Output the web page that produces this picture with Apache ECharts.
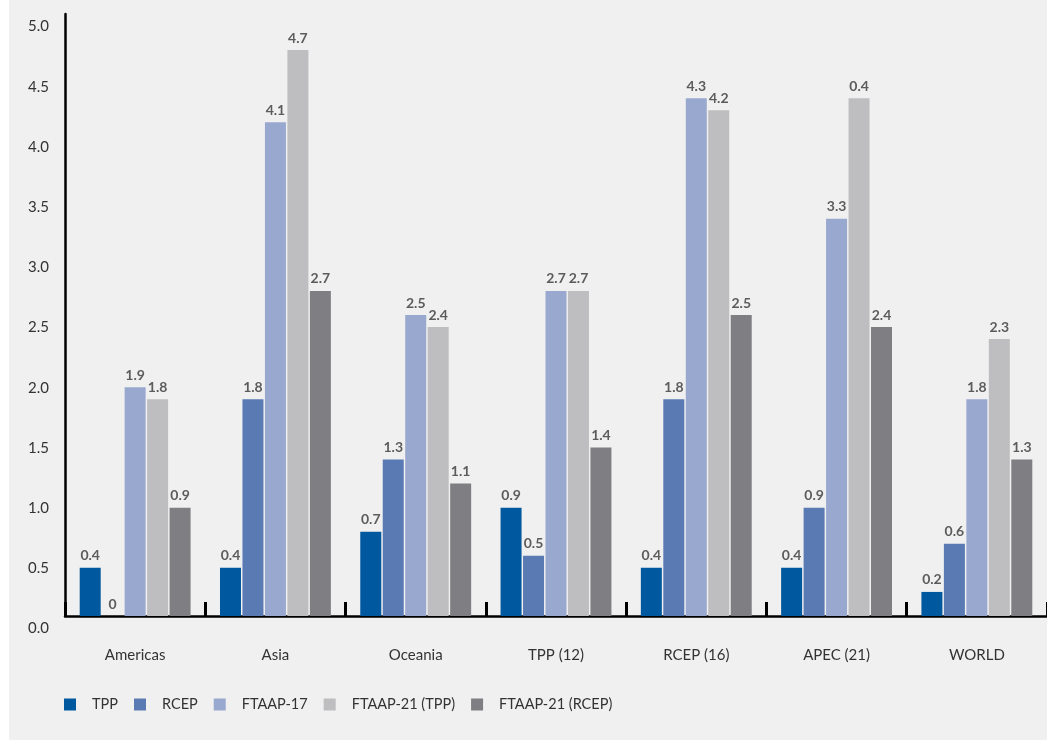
<!DOCTYPE html>
<html><head><meta charset="utf-8">
<script src="https://cdn.jsdelivr.net/npm/echarts@6/dist/echarts.min.js"></script>
<style>html,body{margin:0;padding:0;background:#fff;}#c{position:absolute;left:9px;top:0;width:1038px;height:740px;}</style>
</head><body><div id="c"></div>
<script>
const categories = ['Americas', 'Asia', 'Oceania', 'TPP (12)', 'RCEP (16)', 'APEC (21)', 'WORLD'];
const seriesNames = ['TPP', 'RCEP', 'FTAAP-17', 'FTAAP-21 (TPP)', 'FTAAP-21 (RCEP)'];
const colors = ['#00589f', '#5a7ab4', '#99a8ce', '#bebec0', '#7f7f83'];

// bar heights
const tppValues      = [0.4, 0.4, 0.7, 0.9, 0.4, 0.4, 0.2];
const rcepValues     = [0.0, 1.8, 1.3, 0.5, 1.8, 0.9, 0.6];
const ftaap17Values  = [1.9, 4.1, 2.5, 2.7, 4.3, 3.3, 1.8];
const ftaap21TValues = [1.8, 4.7, 2.4, 2.7, 4.2, 4.3, 2.3];
const ftaap21RValues = [0.9, 2.7, 1.1, 1.4, 2.5, 2.4, 1.3];

// data label texts as printed in the reference
const tppLabels      = ['0.4', '0.4', '0.7', '0.9', '0.4', '0.4', '0.2'];
const rcepLabels     = ['0', '1.8', '1.3', '0.5', '1.8', '0.9', '0.6'];
const ftaap17Labels  = ['1.9', '4.1', '2.5', '2.7', '4.3', '3.3', '1.8'];
const ftaap21TLabels = ['1.8', '4.7', '2.4', '2.7', '4.2', '0.4', '2.3'];
const ftaap21RLabels = ['0.9', '2.7', '1.1', '1.4', '2.5', '2.4', '1.3'];

const allValues = [tppValues, rcepValues, ftaap17Values, ftaap21TValues, ftaap21RValues];
const allLabels = [tppLabels, rcepLabels, ftaap17Labels, ftaap21TLabels, ftaap21RLabels];

const FONT = 'Lato';
const chart = echarts.init(document.getElementById('c'));
chart.setOption({
  backgroundColor: '#f0f0f0',
  animation: false,
  textStyle: { fontFamily: FONT },
  grid: { left: 56, top: 14, width: 983, height: 602, containLabel: false },
  legend: {
    left: 55, top: 697, padding: 0,
    icon: 'rect', itemWidth: 12, itemHeight: 12, itemGap: 16,
    textStyle: { fontFamily: FONT, fontSize: 14.5, color: '#333', padding: [0, 0, 0, 11] },
    data: seriesNames
  },
  xAxis: {
    type: 'category',
    data: categories,
    axisLine: { show: true, lineStyle: { color: '#000', width: 2.5 } },
    axisTick: { show: true, inside: true, length: 14, lineStyle: { color: '#000', width: 3 } },
    axisLabel: { margin: 32, color: '#333', fontSize: 15, fontFamily: FONT },
    splitLine: { show: false }
  },
  yAxis: {
    type: 'value',
    min: 0, max: 5, interval: 0.5,
    axisLine: { show: true, lineStyle: { color: '#000', width: 2.5 } },
    axisTick: { show: false },
    splitLine: { show: false },
    axisLabel: {
      margin: 16, color: '#333', fontSize: 15, fontFamily: FONT,
      verticalAlign: 'top', lineHeight: 25,
      formatter: v => v.toFixed(1)
    }
  },
  series: seriesNames.map((name, i) => ({
    name: name,
    type: 'bar',
    data: allValues[i],
    barWidth: 21,
    barGap: '7%',
    itemStyle: { color: colors[i] },
    label: {
      show: true, position: 'top', distance: 5,
      fontFamily: FONT, fontSize: 14, fontWeight: 'bold', color: '#5c5c5c',
      formatter: p => allLabels[i][p.dataIndex]
    }
  }))
});
</script></body></html>
